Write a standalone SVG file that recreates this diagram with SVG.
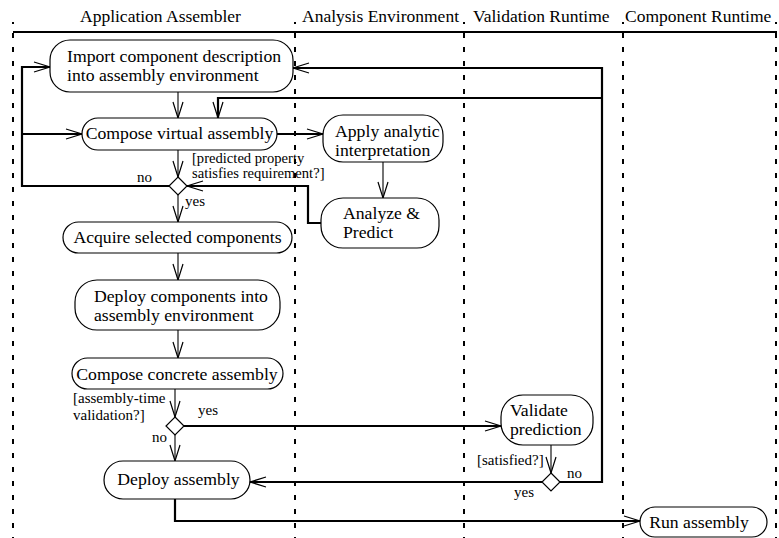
<svg xmlns="http://www.w3.org/2000/svg" width="779" height="538" viewBox="0 0 779 538">
  <style>
    text { font-family: "Liberation Serif", "Times New Roman", serif; fill: #000; }
    .hdr { font-size: 17.5px; }
    .lbl { font-size: 17.7px; }
    .grd { font-size: 15px; }
    .grd2 { font-size: 14.6px; }
    .mid { text-anchor: middle; }
    .act { fill: #fff; stroke: #000; stroke-width: 1.2; }
    .dec { fill: #fff; stroke: #000; stroke-width: 1.2; }
    .lane { stroke: #000; stroke-width: 2; stroke-dasharray: 5 9; stroke-dashoffset: 3; fill: none; }
    .flow { fill: none; stroke: #000; stroke-width: 2.2; }
    .thin { fill: none; stroke: #000; stroke-width: 1.1; }
  </style>
  <defs>
    <marker id="open" markerUnits="userSpaceOnUse" viewBox="-17 -6 19 12" refX="0" refY="0" markerWidth="19" markerHeight="12" orient="auto" overflow="visible">
      <path d="M-16,-5 L0,0 L-16,5" fill="none" stroke="#000" stroke-width="1.2"/>
    </marker>
  </defs>

  <rect width="779" height="538" fill="#fff"/>

  <!-- swimlanes -->
  <g id="lanes">
    <line x1="13" y1="32" x2="777" y2="32" stroke="#000" stroke-width="2"/>
    <line class="lane" x1="13" y1="22" x2="13" y2="538"/>
    <line class="lane" x1="295" y1="22" x2="295" y2="538"/>
    <line class="lane" x1="464" y1="22" x2="464" y2="538"/>
    <line class="lane" x1="623" y1="22" x2="623" y2="538"/>
    <line class="lane" x1="776" y1="22" x2="776" y2="538"/>
    <text class="hdr" x="80" y="22">Application Assembler</text>
    <text class="hdr" x="302" y="22">Analysis Environment</text>
    <text class="hdr" x="473" y="22">Validation Runtime</text>
    <text class="hdr" x="625" y="22">Component Runtime</text>
  </g>

  <!-- connectors -->
  <g id="connectors">
    <!-- thin straight transitions -->
    <line class="thin" x1="178" y1="92" x2="178" y2="118" marker-end="url(#open)"/>
    <line class="thin" x1="178" y1="150" x2="178" y2="177" marker-end="url(#open)"/>
    <line class="thin" x1="178" y1="195" x2="178" y2="222" marker-end="url(#open)"/>
    <line class="thin" x1="178" y1="253" x2="178" y2="280" marker-end="url(#open)"/>
    <line class="thin" x1="178" y1="330" x2="178" y2="358" marker-end="url(#open)"/>
    <line class="thin" x1="175" y1="389" x2="175" y2="417" marker-end="url(#open)"/>
    <line class="thin" x1="175" y1="435" x2="175" y2="461" marker-end="url(#open)"/>
    <line class="thin" x1="383" y1="162" x2="383" y2="198" marker-end="url(#open)"/>
    <line class="thin" x1="551" y1="445" x2="551" y2="473" marker-end="url(#open)"/>
    <!-- routed transitions -->
    <path class="flow" d="M169,186 H22 V67 H50" marker-end="url(#open)"/>
    <path class="flow" d="M22,134 H82" marker-end="url(#open)"/>
    <path class="flow" d="M277,134 H323" marker-end="url(#open)"/>
    <path class="flow" d="M321,223 H308 V186 H187" marker-end="url(#open)"/>
    <path class="flow" d="M560,482 H602 V68 H293" marker-end="url(#open)"/>
    <path class="flow" d="M602,98 H218 V118" marker-end="url(#open)"/>
    <path class="flow" d="M184,426 H501" marker-end="url(#open)"/>
    <path class="flow" d="M542,482 H250" marker-end="url(#open)"/>
    <path class="flow" d="M175,499 V521 H640" marker-end="url(#open)" stroke-width="1.8"/>
    <!-- guards -->
    <text class="grd2" x="192" y="163">[predicted property</text>
    <text class="grd2" x="192" y="178">satisfies requirement?]</text>
    <text class="grd" x="137" y="182">no</text>
    <text class="grd" x="185" y="206">yes</text>
    <text class="grd" x="73" y="403">[assembly-time</text>
    <text class="grd" x="73" y="420">validation?]</text>
    <text class="grd" x="198" y="415">yes</text>
    <text class="grd" x="152" y="442">no</text>
    <text class="grd" x="477" y="465">[satisfied?]</text>
    <text class="grd" x="567" y="478">no</text>
    <text class="grd" x="514" y="497">yes</text>
  </g>

  <!-- activities -->
  <g id="import">
    <rect class="act" x="50" y="40" width="243" height="52" rx="20"/>
    <text class="lbl" x="67" y="62">Import component description</text>
    <text class="lbl" x="67" y="81">into assembly environment</text>
  </g>
  <g id="compose-virtual">
    <rect class="act" x="82" y="118" width="195" height="32" rx="16"/>
    <text class="lbl mid" x="179.5" y="139">Compose virtual assembly</text>
  </g>
  <g id="apply-analytic">
    <rect class="act" x="323" y="115" width="120" height="47" rx="20"/>
    <text class="lbl" x="335" y="137">Apply analytic</text>
    <text class="lbl" x="335" y="156">interpretation</text>
  </g>
  <g id="analyze-predict">
    <rect class="act" x="321" y="198" width="118" height="50" rx="22"/>
    <text class="lbl" x="343" y="219">Analyze &amp;</text>
    <text class="lbl" x="343" y="238">Predict</text>
  </g>
  <g id="decision-prediction">
    <path class="dec" d="M178,177 L187,186 L178,195 L169,186 Z"/>
  </g>
  <g id="acquire">
    <rect class="act" x="63" y="222" width="229" height="31" rx="15.5"/>
    <text class="lbl mid" x="177.5" y="243">Acquire selected components</text>
  </g>
  <g id="deploy-components">
    <rect class="act" x="75" y="280" width="205" height="50" rx="22"/>
    <text class="lbl" x="94" y="302">Deploy components into</text>
    <text class="lbl" x="94" y="321">assembly environment</text>
  </g>
  <g id="compose-concrete">
    <rect class="act" x="72" y="358" width="211" height="31" rx="15.5"/>
    <text class="lbl mid" x="177" y="380">Compose concrete assembly</text>
  </g>
  <g id="decision-validation">
    <path class="dec" d="M175,417 L184,426 L175,435 L166,426 Z"/>
  </g>
  <g id="validate">
    <rect class="act" x="501" y="395" width="92" height="50" rx="22"/>
    <text class="lbl" x="510" y="416">Validate</text>
    <text class="lbl" x="510" y="435">prediction</text>
  </g>
  <g id="decision-satisfied">
    <path class="dec" d="M551,473 L560,482 L551,491 L542,482 Z"/>
  </g>
  <g id="deploy-assembly">
    <rect class="act" x="104" y="461" width="146" height="38" rx="19"/>
    <text class="lbl mid" x="178.5" y="485">Deploy assembly</text>
  </g>
  <g id="run-assembly">
    <rect class="act" x="640" y="507" width="127" height="30" rx="15"/>
    <text class="lbl mid" x="699" y="528">Run assembly</text>
  </g>
</svg>
